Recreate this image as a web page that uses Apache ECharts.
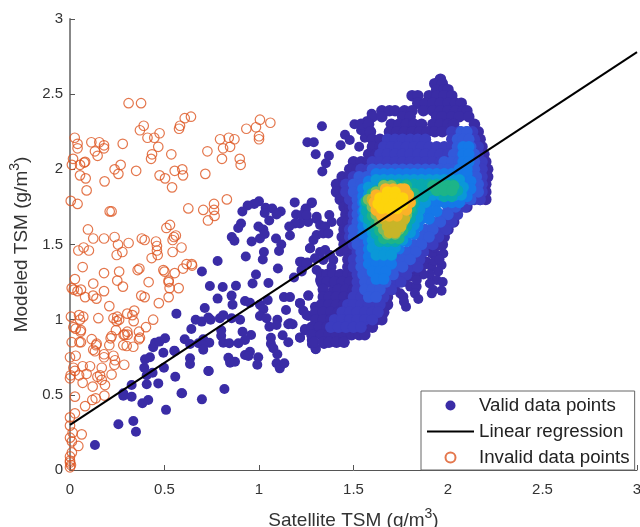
<!DOCTYPE html>
<html><head><meta charset="utf-8">
<script src="https://cdn.jsdelivr.net/npm/echarts@6/dist/echarts.min.js"></script>
<style>html,body{margin:0;padding:0;background:#fff}#c{width:640px;height:527px}</style>
</head><body><div id="c"></div>
<script>
const xTicks=[0,0.5,1,1.5,2,2.5,3];
const lineX=[0,3];
const lineY=[0.3,2.78];
const invalidPoints=[
[.31,2.44],[.376,2.44],[.64,2.35],[.607,2.34],[.582,2.29],[.577,2.27],[.39,2.29],[.37,2.26],[.474,2.24],[.41,2.21],[.446,2.21],[.467,2.15],
[1.005,2.33],[1.06,2.31],[.984,2.28],[.933,2.27],[1,2.22],[1,2.2],[.794,2.2],[.84,2.21],[.87,2.2],[.81,2.14],[.847,2.15],[.727,2.12],[.804,2.07],[.898,2.07],[.903,2.03],
[.025,2.21],[.04,2.17],[.04,2.14],[.113,2.18],[.155,2.18],[.18,2.16],[.18,2.14],[.132,2.12],[.146,2.09],[.279,2.17],[.016,2.07],[.01,2.03],[.053,2.03],[.08,2.05],[.075,2.045],
[.268,2.03],[.236,2],[.256,1.97],[.35,1.99],[.434,2.1],[.429,2.07],[.536,2.1],[.554,1.99],[.594,2],[.598,1.96],[.474,1.96],[.503,1.94],[.54,1.88],[.716,1.97],[.83,1.8],
[.053,1.96],[.083,1.94],[.183,1.92],[.088,1.86],[.004,1.79],[.04,1.77],[.21,1.72],[.22,1.72],[.626,1.74],[.705,1.73],[.762,1.77],[.762,1.73],[.765,1.69],[.73,1.66],
[.095,1.6],[.123,1.54],[.18,1.54],[.236,1.55],[.254,1.5],[.31,1.51],[.277,1.45],[.247,1.43],[.38,1.54],[.395,1.53],[.455,1.52],[.46,1.49],[.46,1.46],[.464,1.43],[.432,1.41],
[.51,1.61],[.529,1.63],[.56,1.56],[.55,1.55],[.543,1.53],[.59,1.48],[.543,1.45],[.044,1.46],[.072,1.48],[.1,1.46],[.067,1.35],[.026,1.27],[.18,1.31],[.26,1.32],[.25,1.26],[.28,1.22],
[.123,1.24],[.18,1.19],[.122,1.16],[.14,1.14],[.08,1.15],[.009,1.21],[.02,1.2],[.04,1.19],[.058,1.2],[.358,1.33],[.367,1.34],[.416,1.25],[.377,1.16],[.395,1.15],[.494,1.33],[.5,1.32],
[.554,1.31],[.522,1.26],[.522,1.25],[.527,1.21],[.575,1.21],[.522,1.15],[.47,1.11],[.598,1.34],[.617,1.37],[.644,1.37],[.646,1.36],[.208,1.09],[.15,1.01],[.005,1.02],[.048,1.03],[.07,1.02],[.053,1],
[.018,.95],[.03,.94],[.058,.93],[.23,1.01],[.25,1.02],[.26,1],[.247,.99],[.303,1.04],[.34,1.06],[.33,1.03],[.337,.99],[.44,1],[.402,.95],[.243,.93],[.303,.92],[.284,.9],[.365,.92],[.37,.88],[.22,.89],
[.056,.92],[.115,.87],[.141,.84],[.138,.83],[.009,.85],[.05,.85],[.058,.85],[.215,.876],[.208,.83],[.29,.9],[.305,.9],[.282,.83],[.3,.825],[.335,.82],[.365,.87],[.123,.8],[.132,.79],[.18,.77],[.18,.75],
[.23,.76],[.238,.73],[.235,.7],[.287,.7],[.03,.76],[0,.75],[.018,.68],[.067,.69],[.106,.69],[.168,.68],[.026,.66],[.0035,.63],[0,.61],[.048,.63],[.088,.64],[.067,.58],[.145,.62],[.159,.63],[.168,.6],[.22,.635],
[.185,.565],[.12,.555],[.182,.495],[.136,.477],[.118,.466],[.08,.425],[.026,.488],[.026,.377],[0,.35],[0,.295],[.062,.237],[0,.215],[.014,.248],[.01,.19],[.044,.16],[.01,.117],[0,.09],[0,.062],[.005,.033],[0,.018],[0,.05]
];
const validSparse=[
[1.189,1.78],[1.28,1.78],[1,1.787],[.975,1.77],[.94,1.76],[.912,1.72],[1.247,1.74],[1.196,1.7],[1.035,1.745],[1.07,1.74],[1.03,1.71],[1.115,1.72],[1.093,1.7],[1.054,1.66],
[1.305,1.67],[1.25,1.685],[1.26,1.65],[1.216,1.64],[1.19,1.64],[1.16,1.62],[.905,1.64],[.89,1.61],[.997,1.62],[1.023,1.6],[1.03,1.57],[1.005,1.54],[1.164,1.56],[.856,1.55],[.87,1.525],[.961,1.52],
[1.09,1.54],[1.118,1.5],[1.106,1.457],[1.026,1.45],[1.02,1.4],[.93,1.42],[1.27,1.475],[.781,1.39],[1.1,1.34],[.698,1.32],[.984,1.3],[.966,1.24],[1.05,1.244],[1.185,1.28],[1.225,1.385],[1.256,1.38],[1.225,1.33],
[.74,1.224],[.808,1.217],[.878,1.226],[.855,1.16],[.781,1.14],[.86,1.1],[.926,1.124],[.952,1.113],[1.005,1.1],[1.046,1.13],[1.132,1.15],[1.164,1.15],[1.261,1.16],[1.217,1.11],[1.234,1.06],[1.261,1.024],
[1.023,1.07],[1.005,1.024],[1.04,1.01],[1.055,.953],[1.143,1.064],[1.097,1],[1.093,.965],[1.164,.976],[1.155,.97],[1.178,.97],[1.243,.938],[1.217,.88],[1.125,.896],[1.155,.85],[1.063,.88],[1.063,.84],[1.076,.81],[1.097,.77],
[1.279,.865],[1.3,.805],[1.344,.843],[.563,1.04],[.713,1.078],[.665,1],[.697,.987],[.732,1.015],[.744,1],[.793,1.01],[.811,1.03],[.642,.938],[.855,1.01],[.9,1],[.8,.93],[.8,.893],[.913,.92],[.958,.898],[.926,.865],
[.607,.87],[.635,.838],[.68,.843],[.705,.87],[.737,.847],[.705,.83],[.705,.8],[.811,.847],[.843,.843],[.891,.843],[.554,.79],[.635,.743],[.635,.705],[.926,.765],[.952,.787],[.944,.758],[.838,.747],[.847,.714],[.873,.72],
[.996,.75],[.991,.7],[1.093,.71],[1.11,.676],[1.134,.71],[.734,.659],[.557,.62],[.817,.539],[.593,.51],[.698,.47],
[.132,.166],[.256,.304],[.335,.326],[.349,.255],[.508,.4],[.383,.444],[.414,.466],[.282,.51],[.282,.494],[.326,.488],[.326,.565],[.406,.57],[.467,.576],[.59,.51],[.732,.658],[.406,.63],[.437,.647],[.393,.68],[.497,.68],
[.397,.736],[.423,.75],[.494,.78],[.552,.794],[.44,.816],[.45,.847],[.473,.854],[.503,.876],
[1.333,2.286],[1.256,2.18],[1.29,2.18],[1.3,2.1],[1.37,2.09],[1.354,2.04],[1.335,1.985],[1.432,2.16],[1.455,2.23],[1.48,2.195],[1.505,2.3],[1.53,2.15],[1.56,2.21],[1.54,2.26],[1.57,2.32],[1.596,2.37],[1.587,2.26],
[1.278,1.774],[1.247,1.734],[1.226,1.696],[1.252,1.696],[1.305,1.685],[1.323,1.63],[1.35,1.62],[1.372,1.696],[1.385,1.65],[1.288,1.53],[1.305,1.563],[1.34,1.574],[1.367,1.574],[1.27,1.475],[1.323,1.45],[1.35,1.463],[1.296,1.408],
[1.34,1.397],[1.376,1.43],[1.393,1.397],[1.43,1.452],[1.217,1.386],[1.249,1.375],[1.226,1.32],[1.384,1.35],[1.376,1.31],[1.305,1.33],[1.323,1.264],[1.34,1.22],[1.34,1.164],[1.393,1.275],[1.43,1.264],[1.393,1.197],[1.358,1.164],
[1.261,1.16],[1.217,1.11],[1.252,1.03],[1.296,1.086],[1.243,.93],[1.217,.882],[1.28,.887],[1.28,.838],[1.3,.803],[1.344,.838],[1.33,.92],[1.376,.91],[1.49,.902],[1.288,.953],[1.323,.965],
[1.975,1.44],[1.94,1.43],[1.914,1.44],[1.887,1.385],[1.914,1.35],[1.966,1.364],[1.948,1.32],[1.904,1.3],[1.87,1.3],[1.825,1.3],[1.8,1.286],[1.94,1.264],[1.972,1.25],[1.904,1.24],[1.922,1.197],[1.966,1.193],[1.914,1.175],
[1.772,1.253],[1.8,1.22],[1.834,1.22],[1.825,1.175],[1.843,1.137],[1.747,1.175],[1.72,1.2],[1.764,1.153],[1.778,1.086],[1.767,1.12],[1.835,1.264],[1.93,1.39],[1.955,1.4],
[1.9,1.49],[1.93,1.48],[1.87,1.36],[1.84,1.36],[1.81,1.34],[1.87,1.46]
];
// each row: y value followed by the x values read along that row
const level0=[
[2.6,1.96],[2.57,1.93,1.97],[2.53,1.94,1.98,2],[2.49,1.81,1.84,1.9,1.94,1.98,2.02],[2.44,1.84,1.88,1.92,1.96,2,2.04,2.07],
[2.39,1.65,1.69,1.72,1.77,1.81,1.87,1.92,1.96,2,2.04,2.08,2.1],[2.35,1.6,1.65,1.76,1.8,1.94,1.97,2.02,2.06,2.11],
[2.3,1.7,1.74,1.78,1.82,1.86,1.92,1.96,2,2.03,2.14,1.54,1.58],[2.25,1.59,1.69,1.73,1.77,1.81,1.85,1.89,1.93,1.97,2.16],
[2.2,1.6,1.64,1.68,1.72,1.76,1.8,1.84,1.88,2.17],[2.15,1.6,1.64,2.18],[2.1,1.58,1.62,1.66,2.19],[2.05,1.5,1.54,1.58,1.62,2.2],
[2,1.48,1.52,1.56,2.21],[1.95,1.44,1.48,1.52,2.21],[1.9,1.41,1.45,1.49,2.2],[1.85,1.41,1.45,1.48,2.2],[1.8,1.43,1.46,2.2,2.17,2.13,2.09],
[1.75,1.45,1.48,2.1,2.06],[1.7,1.46,1.49,2.04,2],[1.65,1.44,1.47,2.03,2,1.96],[1.6,1.45,1.47,2,1.97],[1.55,1.44,1.46,1.98,1.95],[1.5,1.45,1.48,1.97,1.95],
[1.45,1.47,1.5],[1.4,1.47,1.5],[1.35,1.47,1.5],
[1.3,1.33,1.36,1.39,1.43,1.47,1.5,1.72,1.75],[1.25,1.33,1.36,1.4,1.44,1.48,1.7,1.73],[1.2,1.34,1.42,1.46,1.5,1.67,1.7],[1.15,1.34,1.37,1.41,1.45,1.49,1.53,1.65,1.68],
[1.1,1.33,1.37,1.41,1.45,1.49,1.53,1.57,1.61,1.65,1.68],[1.05,1.3,1.34,1.38,1.42,1.46,1.5,1.54,1.58,1.62,1.66],[1,1.3,1.34,1.38,1.42,1.46,1.5,1.54,1.58,1.62,1.65],
[.95,1.28,1.32,1.36,1.4,1.48,1.52,1.56,1.6],[.9,1.28,1.33,1.37,1.41,1.45,1.49,1.53,1.56],[.85,1.29,1.34,1.37,1.41,1.45]
];
const level1=[
[2.25,2.02,2.06,2.1,2.13],[2.2,1.68,1.72,1.76,1.8,1.84,1.88,2.02,2.06,2.1,2.14],[2.15,1.66,1.7,1.74,1.78,1.82,1.86,1.9,1.94,1.98,2.02,2.06,2.1,2.14,2.16],
[2.1,1.64,1.68,1.72,1.76,1.8,1.84,1.88,1.92,1.96,2,2.04,2.08,2.12,2.16],[2.05,1.6,1.64,1.68,1.72,1.76,1.8,1.84,1.88,1.92,1.96,2,2.04,2.08,2.12,2.16,2.18],
[2,1.54,1.58,1.62,1.66,1.7,1.74,1.78,1.82,1.86,1.9,1.94,1.98,2.02,2.06,2.1,2.14,2.18],[1.95,1.5,1.54,1.58,2.18],[1.9,1.46,1.5,2.18],[1.85,1.46,1.5,2.18],
[1.8,1.48,1.52,2.14,2.17],[1.75,1.5,2.06,2.09],[1.7,1.5,2.02,2.05],[1.65,1.5,1.99,2.02],[1.6,1.48,1.96,1.99,1.92],[1.55,1.48,1.92,1.95],[1.5,1.5,1.88,1.92],[1.45,1.52,1.8,1.84,1.87],
[1.4,1.5,1.74,1.78,1.82,1.85],[1.35,1.5,1.72,1.76,1.8,1.84],[1.3,1.52,1.7,1.74,1.78],[1.25,1.52,1.68,1.72,1.75],[1.2,1.52,1.66,1.7],[1.15,1.5,1.54,1.58,1.62,1.66],[1.1,1.47,1.5,1.54,1.58,1.62,1.64],
[1.05,1.44,1.48,1.52,1.56,1.6,1.63],[1,1.4,1.44,1.48,1.52,1.56,1.6],[.95,1.38,1.42,1.46,1.5,1.54]
];
const level2=[
[2.25,2.07,2.1],[2.2,2.05,2.08,2.11],[2.15,2.05,2.09,2.12],[2.1,2.03,2.07,2.1,2.14],[2.05,1.98,2.02,2.06,2.1,2.14],
[2,1.6,1.64,1.68,1.72,1.76,1.8,1.84,1.88,1.92,1.96,2,2.04,2.08,2.14],[1.95,1.53,1.57,1.61,1.65,1.69,2.15],[1.9,1.5,1.54,1.58,2.12,2.16],[1.85,1.5,1.54,1.58,2.12,2.16],
[1.8,1.52,1.56,2.08,2.12],[1.75,1.52,1.56,2,2.04],[1.7,1.52,1.55,1.96,2],[1.65,1.52,1.55,1.92,1.96],[1.6,1.5,1.54,1.88,1.92],[1.55,1.5,1.54,1.86,1.9],[1.5,1.52,1.56,1.82,1.86],
[1.45,1.54,1.58,1.78,1.83],[1.4,1.54,1.58,1.72,1.76,1.8],[1.35,1.54,1.58,1.68,1.72,1.76],[1.3,1.55,1.59,1.68,1.71],[1.25,1.56,1.6,1.64,1.67],[1.2,1.56,1.6,1.64],[1.15,1.58,1.62]
];
const level3=[
[2.15,2.08,2.11],[2.1,2.08,2.11],[2.05,2.08,2.11],[2,2.06,2.1],[1.97,1.62,1.66,1.7,1.74,1.78,1.82,1.86,1.9,1.94,1.98,2.02,2.06,2.1],
[1.92,1.58,1.62,1.66,2.08,2.12],[1.87,1.55,1.58,1.62,2.08,2.12],[1.82,1.55,1.59,2.05,2.08,2.1],[1.78,1.55,1.58,1.9,1.94,1.98,2.02,2.06],[1.72,1.55,1.58,1.85,1.9,1.94],
[1.67,1.55,1.58,1.82,1.86,1.9],[1.62,1.55,1.58,1.8,1.84],[1.57,1.55,1.6,1.78,1.82],[1.52,1.58,1.62,1.74,1.78],[1.47,1.58,1.62,1.66,1.7,1.74],[1.42,1.58,1.62,1.66,1.7],
[1.37,1.58,1.62,1.66,1.7],[1.32,1.6,1.64,1.67],[1.27,1.62,1.66]
];
const level4=[
[1.93,1.62,1.66,1.7,1.74,1.78,1.82,1.86,1.9,1.94,1.98,2.02,2.06],[1.88,1.58,1.62,2.04,2.08],[1.83,1.58,1.61,1.88,1.92,1.96,2,2.04,2.07],[1.78,1.56,1.6,1.84,1.88],
[1.73,1.56,1.6,1.82,1.85],[1.68,1.56,1.6,1.8,1.84],[1.63,1.58,1.6,1.8,1.82],[1.58,1.6,1.64,1.76,1.8],[1.53,1.6,1.64,1.68,1.72,1.76],[1.48,1.6,1.64,1.68,1.72],[1.43,1.62,1.66,1.7]
];
const level5=[
[1.9,1.66,1.7,1.74,1.78,1.82,1.86,1.9,1.94,1.98,2.02],[1.86,1.62,1.66,1.86,1.9,1.94,1.98,2.02,2.05],[1.82,1.6,1.64,1.84,1.87,1.98,2.02],[1.77,1.57,1.6,1.82],[1.72,1.57,1.6,1.81],
[1.67,1.58,1.62,1.8],[1.62,1.6,1.64,1.78],[1.57,1.62,1.66,1.7,1.74],[1.52,1.64,1.68,1.72]
];
const level6=[
[1.89,1.92,1.96,2,2.03,1.66,1.72,1.78],[1.86,1.94,1.98,2.02],[1.84,1.6,1.64,1.8,1.82],[1.79,1.57,1.6,1.81],[1.74,1.6,1.62,1.8],[1.69,1.6,1.64,1.78],[1.64,1.62,1.66,1.76],[1.59,1.64,1.68,1.72,1.76],[1.54,1.66,1.7,1.74]
];
const level7=[
[1.89,1.66,1.7],[1.85,1.62,1.78],[1.8,1.58,1.6],[1.75,1.6],[1.7,1.62,1.78],[1.65,1.64,1.68,1.76],[1.6,1.66,1.7,1.74],[1.57,1.68,1.72]
];
const level8=[
[1.85,1.74],[1.8,1.6],[1.72,1.63],[1.67,1.66,1.7,1.74,1.77],[1.62,1.68,1.72,1.75],[1.58,1.69,1.72]
];
const level9=[
[1.87,1.67,1.71,1.75,1.77],[1.83,1.62,1.66,1.7,1.74,1.79],[1.78,1.61,1.64,1.78,1.8],[1.73,1.62,1.66,1.7,1.74,1.78],[1.69,1.65,1.69,1.73]
];
const level10=[
[1.85,1.68,1.72],[1.81,1.64,1.68,1.72,1.76],[1.77,1.63,1.67,1.71,1.76],[1.74,1.65,1.69,1.73]
];
const levels=[level0,level1,level2,level3,level4,level5,level6,level7,level8,level9,level10];
const palette=['#3a2ca6','#3b3cbf','#3259da','#1578e8','#0a98d8','#08a8ae','#1db488','#7cbb5c','#c8b528','#fbb228','#fdd40c'];

const validData=validSparse.map(p=>({value:p,itemStyle:{color:palette[0]}}));
levels.forEach((rows,i)=>rows.forEach(r=>r.slice(1).forEach(x=>validData.push({value:[x,r[0]],symbolSize:11.5,itemStyle:{color:palette[i]}}))));

const chart=echarts.init(document.getElementById('c'),null,{renderer:'canvas'});
const font='"Liberation Sans",Arial,sans-serif';
const sup={sup:{fontSize:14,verticalAlign:'bottom',padding:[0,0,14,0],color:'#333',fontFamily:font}};
chart.setOption({
 animation:false,
 backgroundColor:'#fff',
 grid:{left:70,right:3,top:19,bottom:57,containLabel:false,outerBoundsMode:'none'},
 xAxis:{type:'value',min:0,max:3,interval:0.5,
  name:'Satellite TSM (g/m{sup|3})',nameLocation:'middle',nameGap:37,
  nameTextStyle:{fontSize:19,color:'#333',fontFamily:font,rich:sup},
  axisLine:{lineStyle:{color:'#555',width:1}},axisTick:{inside:true,length:5,lineStyle:{color:'#555'}},
  axisLabel:{fontSize:15,color:'#333',fontFamily:font,margin:12,formatter:v=>String(v)},
  splitLine:{show:false}},
 yAxis:{type:'value',min:0,max:3,interval:0.5,
  name:'Modeled TSM (g/m{sup|3})',nameLocation:'middle',nameGap:27,
  nameTextStyle:{fontSize:19,color:'#333',fontFamily:font,rich:sup},
  axisLine:{lineStyle:{color:'#888',width:2}},axisTick:{inside:true,length:5,lineStyle:{color:'#555'}},
  axisLabel:{fontSize:15,color:'#333',fontFamily:font,margin:7,formatter:v=>String(v)},
  splitLine:{show:false}},
 legend:{show:true,orient:'vertical',left:421,top:391,padding:[5,5,3,5],itemGap:7,itemWidth:47,itemHeight:10,
  selectedMode:false,backgroundColor:'#fff',borderColor:'#666',borderWidth:1,borderRadius:0,
  textStyle:{fontSize:18.7,color:'#222',fontFamily:font},z:20,
  data:['Valid data points','Linear regression','Invalid data points']},
 series:[
  {name:'Valid data points',type:'scatter',symbol:'circle',symbolSize:10,clip:false,itemStyle:{color:palette[0],opacity:1},data:validData,z:2},
  {name:'Invalid data points',type:'scatter',symbol:'circle',symbolSize:9.5,clip:false,itemStyle:{color:'rgba(255,255,255,0)',borderColor:'#dd5520',borderWidth:1.2},data:invalidPoints,z:3},
  {name:'Linear regression',type:'line',showSymbol:false,symbol:'none',lineStyle:{color:'#000',width:2},itemStyle:{color:'rgba(0,0,0,0)'},data:lineX.map((x,i)=>[x,lineY[i]]),z:4}
 ]
});
</script></body></html>
